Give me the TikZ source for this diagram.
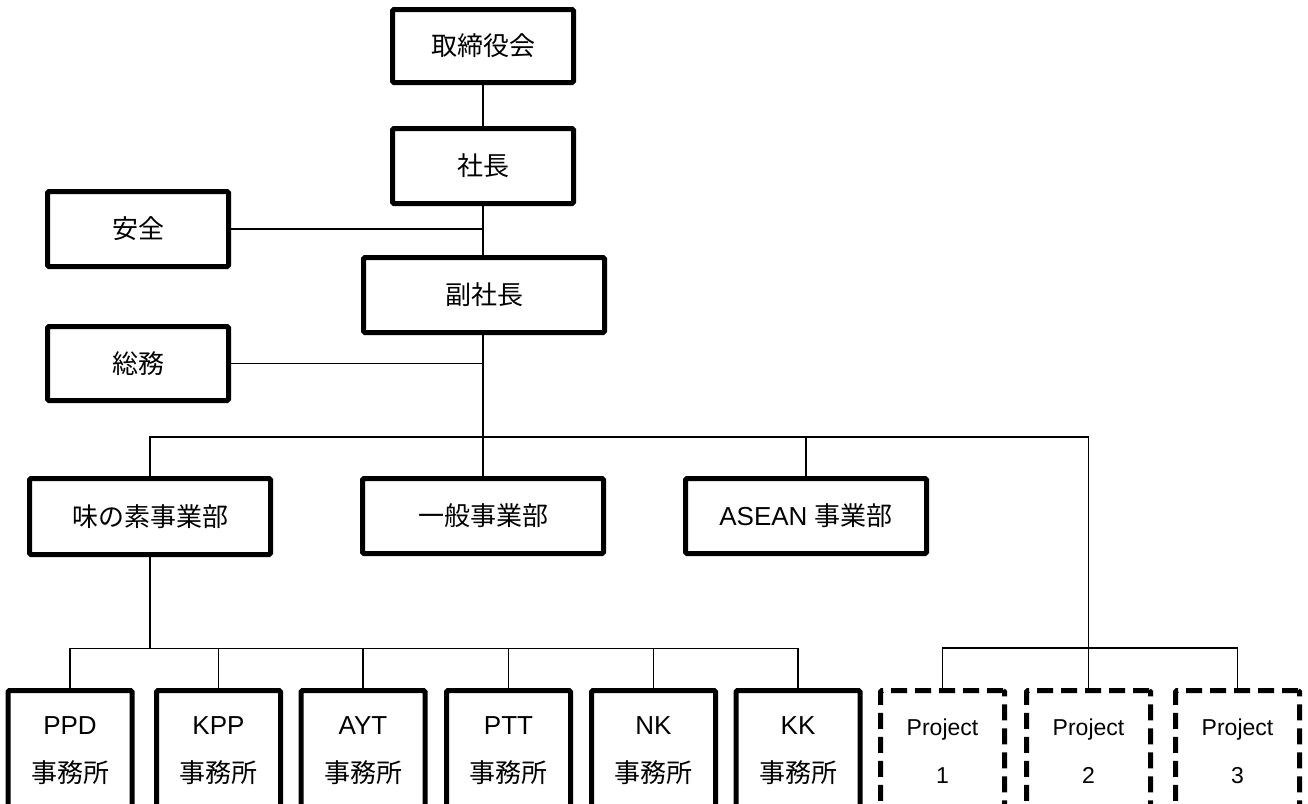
\documentclass[tikz,border=0pt]{standalone}
\usepackage{fontspec}
\setmainfont{Liberation Sans}
\newfontfamily\jp{Noto Sans CJK JP}
\begin{document}
\begin{tikzpicture}[x=1pt,y=-1pt,
  box/.style={draw,line width=5pt,rounded corners=1.5pt,inner sep=0pt,
    font=\fontsize{26}{48}\selectfont,align=center},
  wide/.style={box,minimum width=241pt,minimum height=75pt},
  side/.style={box,minimum width=181pt,minimum height=75pt},
  office/.style={box,minimum width=124pt,minimum height=121pt},
  proj/.style={office,dash pattern=on 16pt off 8pt,font=\fontsize{23}{48}\selectfont},
  conn/.style={line width=1.3pt}]
\useasboundingbox (0,0) rectangle (1308,803);
\clip (0,0) rectangle (1308,803);
% nodes
\node[box,minimum width=181pt,minimum height=73pt] (board) at (483,46) {\jp 取締役会};
\node[side] (pres) at (483,166) {\jp 社長};
\node[side] (safety) at (138,229) {\jp 安全};
\node[wide] (vp) at (484,295) {\jp 副社長};
\node[side,minimum height=74pt] (soumu) at (138,363.5) {\jp 総務};
\node[wide,minimum height=76pt] (ajino) at (150,516.5) {\jp 味の素事業部};
\node[wide] (ippan) at (483,516) {\jp 一般事業部};
\node[wide] (asean) at (806,516) {ASEAN {\jp 事業部}};
\node[office] (ppd) at (70,751) {PPD\\{\jp 事務所}};
\node[office] (kpp) at (218.5,751) {KPP\\{\jp 事務所}};
\node[office] (ayt) at (363,751) {AYT\\{\jp 事務所}};
\node[office] (ptt) at (508.5,751) {PTT\\{\jp 事務所}};
\node[office] (nk) at (653.5,751) {NK\\{\jp 事務所}};
\node[office] (kk) at (798,751) {KK\\{\jp 事務所}};
\node[proj] (p1) at (942.5,751) {Project\\1};
\node[proj] (p2) at (1088.5,751) {Project\\2};
\node[proj] (p3) at (1237.5,751) {Project\\3};
% junction coordinates
\coordinate (bus) at (483,437);
\coordinate (obus) at (150,648.5);
\coordinate (pbus) at (1088.5,648);
% connectors
\draw[conn] (board.south) -- (pres.north);
\draw[conn] (pres.south) -- (pres.south |- vp.north);
\draw[conn] (safety.east) -- (safety.east -| pres.south);
\draw[conn] (pres.south |- vp.south) -- (ippan.north);
\draw[conn] (soumu.east) -- (soumu.east -| bus);
\draw[conn] (ajino.north) |- (p2.north |- bus) -- (p2.north);
\draw[conn] (asean.north) -- (asean.north |- bus);
\draw[conn] (ajino.south) -- (ajino.south |- obus);
\draw[conn] (ppd.north) |- (kk.north |- obus) -- (kk.north);
\foreach \n in {kpp,ayt,ptt,nk} \draw[conn] (\n.north) -- (\n.north |- obus);
\draw[conn] (p1.north) |- (p3.north |- pbus) -- (p3.north);
\end{tikzpicture}
\end{document}
